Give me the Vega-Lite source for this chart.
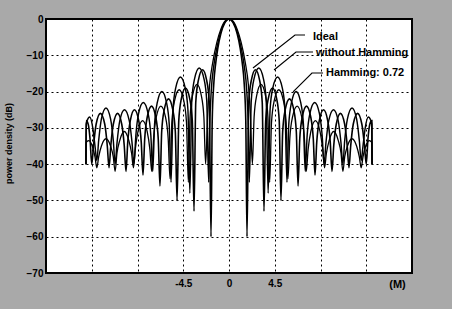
{
"$schema":"https://vega.github.io/schema/vega-lite/v6.json",
"width":366,"height":254,
"autosize":{"type":"none"},
"padding":{"left":46,"top":19,"right":40,"bottom":36},
"background":"#a9a9a9",
"config":{"view":{"stroke":"black","strokeWidth":2,"fill":"white"},"font":"Liberation Sans","axis":{"labelOverlap":false}},
"datasets":{
"curves":[
{"c":"I","x":-14.07,"y":-40},{"c":"I","x":-14.05,"y":-28},{"c":"I","x":-13.85,"y":-29},{"c":"I","x":-13.67,"y":-33},{"c":"I","x":-13.5,"y":-40},
{"c":"I","x":-13.33,"y":-35},{"c":"I","x":-13.07,"y":-29},{"c":"I","x":-12.65,"y":-26},{"c":"I","x":-12.22,"y":-29},{"c":"I","x":-11.97,"y":-35},{"c":"I","x":-11.8,"y":-41},
{"c":"I","x":-11.63,"y":-35},{"c":"I","x":-11.38,"y":-29},{"c":"I","x":-10.96,"y":-26},{"c":"I","x":-10.55,"y":-29},{"c":"I","x":-10.3,"y":-35},{"c":"I","x":-10.13,"y":-42},
{"c":"I","x":-9.96,"y":-34},{"c":"I","x":-9.71,"y":-28},{"c":"I","x":-9.3,"y":-25},{"c":"I","x":-8.88,"y":-28},{"c":"I","x":-8.63,"y":-34},{"c":"I","x":-8.46,"y":-43},
{"c":"I","x":-8.29,"y":-33},{"c":"I","x":-8.04,"y":-27},{"c":"I","x":-7.62,"y":-24},{"c":"I","x":-7.21,"y":-27},{"c":"I","x":-6.96,"y":-33},{"c":"I","x":-6.79,"y":-46},
{"c":"I","x":-6.62,"y":-31},{"c":"I","x":-6.37,"y":-25},{"c":"I","x":-5.95,"y":-22},{"c":"I","x":-5.53,"y":-25},{"c":"I","x":-5.28,"y":-31},{"c":"I","x":-5.11,"y":-50},
{"c":"I","x":-4.94,"y":-28},{"c":"I","x":-4.69,"y":-22},{"c":"I","x":-4.28,"y":-19},{"c":"I","x":-3.86,"y":-22},{"c":"I","x":-3.61,"y":-28},{"c":"I","x":-3.44,"y":-53},
{"c":"I","x":-3.27,"y":-23},{"c":"I","x":-3.02,"y":-17},{"c":"I","x":-2.6,"y":-14},{"c":"I","x":-2.19,"y":-17},{"c":"I","x":-1.94,"y":-23},{"c":"I","x":-1.77,"y":-60},
{"c":"I","x":-1.65,"y":-28},{"c":"I","x":-1.5,"y":-18},{"c":"I","x":-1.3,"y":-12},{"c":"I","x":-1.1,"y":-8},{"c":"I","x":-0.8,"y":-4},{"c":"I","x":-0.4,"y":-1},
{"c":"I","x":0,"y":0},
{"c":"I","x":0.4,"y":-1},{"c":"I","x":0.8,"y":-4},{"c":"I","x":1.1,"y":-8},{"c":"I","x":1.3,"y":-12},{"c":"I","x":1.5,"y":-18},{"c":"I","x":1.65,"y":-28},{"c":"I","x":1.77,"y":-60},
{"c":"I","x":1.94,"y":-23},{"c":"I","x":2.19,"y":-17},{"c":"I","x":2.6,"y":-14},{"c":"I","x":3.02,"y":-17},{"c":"I","x":3.27,"y":-23},{"c":"I","x":3.44,"y":-53},
{"c":"I","x":3.61,"y":-28},{"c":"I","x":3.86,"y":-22},{"c":"I","x":4.28,"y":-19},{"c":"I","x":4.69,"y":-22},{"c":"I","x":4.94,"y":-28},{"c":"I","x":5.11,"y":-50},
{"c":"I","x":5.28,"y":-31},{"c":"I","x":5.53,"y":-25},{"c":"I","x":5.95,"y":-22},{"c":"I","x":6.37,"y":-25},{"c":"I","x":6.62,"y":-31},{"c":"I","x":6.79,"y":-46},
{"c":"I","x":6.96,"y":-33},{"c":"I","x":7.21,"y":-27},{"c":"I","x":7.62,"y":-24},{"c":"I","x":8.04,"y":-27},{"c":"I","x":8.29,"y":-33},{"c":"I","x":8.46,"y":-43},
{"c":"I","x":8.63,"y":-34},{"c":"I","x":8.88,"y":-28},{"c":"I","x":9.3,"y":-25},{"c":"I","x":9.71,"y":-28},{"c":"I","x":9.96,"y":-34},{"c":"I","x":10.13,"y":-42},
{"c":"I","x":10.3,"y":-35},{"c":"I","x":10.55,"y":-29},{"c":"I","x":10.96,"y":-26},{"c":"I","x":11.38,"y":-29},{"c":"I","x":11.63,"y":-35},{"c":"I","x":11.8,"y":-41},
{"c":"I","x":11.97,"y":-35},{"c":"I","x":12.22,"y":-29},{"c":"I","x":12.65,"y":-26},{"c":"I","x":13.07,"y":-29},{"c":"I","x":13.33,"y":-35},{"c":"I","x":13.5,"y":-40},
{"c":"I","x":13.67,"y":-33},{"c":"I","x":13.85,"y":-29},{"c":"I","x":14.05,"y":-28},{"c":"I","x":14.07,"y":-40},

{"c":"W","x":-14.07,"y":-40},{"c":"W","x":-14.05,"y":-29},{"c":"W","x":-13.95,"y":-28},{"c":"W","x":-13.7,"y":-27},{"c":"W","x":-13.4,"y":-30},{"c":"W","x":-13.18,"y":-35},{"c":"W","x":-13.0,"y":-39},
{"c":"W","x":-12.82,"y":-33.5},{"c":"W","x":-12.55,"y":-27.5},{"c":"W","x":-12.1,"y":-24.5},{"c":"W","x":-11.65,"y":-27.5},{"c":"W","x":-11.38,"y":-33.5},{"c":"W","x":-11.2,"y":-40},
{"c":"W","x":-11.01,"y":-34},{"c":"W","x":-10.74,"y":-28},{"c":"W","x":-10.28,"y":-25},{"c":"W","x":-9.81,"y":-28},{"c":"W","x":-9.54,"y":-34},{"c":"W","x":-9.35,"y":-40},
{"c":"W","x":-9.16,"y":-32},{"c":"W","x":-8.89,"y":-26},{"c":"W","x":-8.43,"y":-23},{"c":"W","x":-7.96,"y":-26},{"c":"W","x":-7.69,"y":-32},{"c":"W","x":-7.5,"y":-42},
{"c":"W","x":-7.32,"y":-29},{"c":"W","x":-7.05,"y":-23},{"c":"W","x":-6.6,"y":-20},{"c":"W","x":-6.15,"y":-23},{"c":"W","x":-5.88,"y":-29},{"c":"W","x":-5.7,"y":-45},
{"c":"W","x":-5.51,"y":-25},{"c":"W","x":-5.24,"y":-19},{"c":"W","x":-4.78,"y":-16},{"c":"W","x":-4.31,"y":-19},{"c":"W","x":-4.04,"y":-25},{"c":"W","x":-3.85,"y":-48},
{"c":"W","x":-3.66,"y":-22.5},{"c":"W","x":-3.39,"y":-16.5},{"c":"W","x":-2.93,"y":-13.5},{"c":"W","x":-2.46,"y":-16.5},{"c":"W","x":-2.19,"y":-22.5},{"c":"W","x":-2.0,"y":-45},
{"c":"W","x":-1.9,"y":-30},{"c":"W","x":-1.75,"y":-20},{"c":"W","x":-1.5,"y":-13},{"c":"W","x":-1.2,"y":-8},{"c":"W","x":-0.8,"y":-3.5},{"c":"W","x":-0.4,"y":-0.8},
{"c":"W","x":0,"y":0},
{"c":"W","x":0.4,"y":-0.8},{"c":"W","x":0.8,"y":-3.5},{"c":"W","x":1.2,"y":-8},{"c":"W","x":1.5,"y":-13},{"c":"W","x":1.75,"y":-20},{"c":"W","x":1.9,"y":-30},{"c":"W","x":2.0,"y":-45},
{"c":"W","x":2.19,"y":-22.5},{"c":"W","x":2.46,"y":-16.5},{"c":"W","x":2.93,"y":-13.5},{"c":"W","x":3.39,"y":-16.5},{"c":"W","x":3.66,"y":-22.5},{"c":"W","x":3.85,"y":-48},
{"c":"W","x":4.04,"y":-25},{"c":"W","x":4.31,"y":-19},{"c":"W","x":4.78,"y":-16},{"c":"W","x":5.24,"y":-19},{"c":"W","x":5.51,"y":-25},{"c":"W","x":5.7,"y":-45},
{"c":"W","x":5.88,"y":-29},{"c":"W","x":6.15,"y":-23},{"c":"W","x":6.6,"y":-20},{"c":"W","x":7.05,"y":-23},{"c":"W","x":7.32,"y":-29},{"c":"W","x":7.5,"y":-42},
{"c":"W","x":7.69,"y":-32},{"c":"W","x":7.96,"y":-26},{"c":"W","x":8.43,"y":-23},{"c":"W","x":8.89,"y":-26},{"c":"W","x":9.16,"y":-32},{"c":"W","x":9.35,"y":-40},
{"c":"W","x":9.54,"y":-34},{"c":"W","x":9.81,"y":-28},{"c":"W","x":10.28,"y":-25},{"c":"W","x":10.74,"y":-28},{"c":"W","x":11.01,"y":-34},{"c":"W","x":11.2,"y":-40},
{"c":"W","x":11.38,"y":-33.5},{"c":"W","x":11.65,"y":-27.5},{"c":"W","x":12.1,"y":-24.5},{"c":"W","x":12.55,"y":-27.5},{"c":"W","x":12.82,"y":-33.5},{"c":"W","x":13.0,"y":-39},
{"c":"W","x":13.18,"y":-35},{"c":"W","x":13.4,"y":-30},{"c":"W","x":13.7,"y":-27},{"c":"W","x":13.95,"y":-28},{"c":"W","x":14.05,"y":-29},{"c":"W","x":14.07,"y":-40},

{"c":"H","x":-14.07,"y":-40},{"c":"H","x":-14.05,"y":-34},{"c":"H","x":-13.8,"y":-33.5},{"c":"H","x":-13.45,"y":-35},{"c":"H","x":-13.18,"y":-38},{"c":"H","x":-13.0,"y":-41},
{"c":"H","x":-12.82,"y":-38},{"c":"H","x":-12.55,"y":-35},{"c":"H","x":-12.1,"y":-33},{"c":"H","x":-11.65,"y":-35},{"c":"H","x":-11.38,"y":-38},{"c":"H","x":-11.2,"y":-42},
{"c":"H","x":-11.02,"y":-37},{"c":"H","x":-10.75,"y":-33.5},{"c":"H","x":-10.3,"y":-31},{"c":"H","x":-9.85,"y":-33.5},{"c":"H","x":-9.58,"y":-37},{"c":"H","x":-9.4,"y":-41},
{"c":"H","x":-9.22,"y":-36},{"c":"H","x":-8.95,"y":-31},{"c":"H","x":-8.5,"y":-28},{"c":"H","x":-8.05,"y":-31},{"c":"H","x":-7.78,"y":-36},{"c":"H","x":-7.6,"y":-42},
{"c":"H","x":-7.42,"y":-33},{"c":"H","x":-7.15,"y":-27},{"c":"H","x":-6.7,"y":-24},{"c":"H","x":-6.25,"y":-27},{"c":"H","x":-5.98,"y":-33},{"c":"H","x":-5.8,"y":-44},
{"c":"H","x":-5.62,"y":-28.5},{"c":"H","x":-5.35,"y":-22.5},{"c":"H","x":-4.9,"y":-19.5},{"c":"H","x":-4.45,"y":-22.5},{"c":"H","x":-4.18,"y":-28.5},{"c":"H","x":-4.0,"y":-45},
{"c":"H","x":-3.83,"y":-27},{"c":"H","x":-3.58,"y":-21},{"c":"H","x":-3.15,"y":-18},{"c":"H","x":-2.73,"y":-21},{"c":"H","x":-2.47,"y":-27},{"c":"H","x":-2.3,"y":-40},
{"c":"H","x":-2.1,"y":-26},{"c":"H","x":-1.9,"y":-18},{"c":"H","x":-1.6,"y":-12},{"c":"H","x":-1.2,"y":-6.5},{"c":"H","x":-0.8,"y":-2.8},{"c":"H","x":-0.4,"y":-0.6},
{"c":"H","x":0,"y":0},
{"c":"H","x":0.4,"y":-0.6},{"c":"H","x":0.8,"y":-2.8},{"c":"H","x":1.2,"y":-6.5},{"c":"H","x":1.6,"y":-12},{"c":"H","x":1.9,"y":-18},{"c":"H","x":2.1,"y":-26},{"c":"H","x":2.3,"y":-40},
{"c":"H","x":2.47,"y":-27},{"c":"H","x":2.73,"y":-21},{"c":"H","x":3.15,"y":-18},{"c":"H","x":3.58,"y":-21},{"c":"H","x":3.83,"y":-27},{"c":"H","x":4.0,"y":-45},
{"c":"H","x":4.18,"y":-28.5},{"c":"H","x":4.45,"y":-22.5},{"c":"H","x":4.9,"y":-19.5},{"c":"H","x":5.35,"y":-22.5},{"c":"H","x":5.62,"y":-28.5},{"c":"H","x":5.8,"y":-44},
{"c":"H","x":5.98,"y":-33},{"c":"H","x":6.25,"y":-27},{"c":"H","x":6.7,"y":-24},{"c":"H","x":7.15,"y":-27},{"c":"H","x":7.42,"y":-33},{"c":"H","x":7.6,"y":-42},
{"c":"H","x":7.78,"y":-36},{"c":"H","x":8.05,"y":-31},{"c":"H","x":8.5,"y":-28},{"c":"H","x":8.95,"y":-31},{"c":"H","x":9.22,"y":-36},{"c":"H","x":9.4,"y":-41},
{"c":"H","x":9.58,"y":-37},{"c":"H","x":9.85,"y":-33.5},{"c":"H","x":10.3,"y":-31},{"c":"H","x":10.75,"y":-33.5},{"c":"H","x":11.02,"y":-37},{"c":"H","x":11.2,"y":-42},
{"c":"H","x":11.38,"y":-38},{"c":"H","x":11.65,"y":-35},{"c":"H","x":12.1,"y":-33},{"c":"H","x":12.55,"y":-35},{"c":"H","x":12.82,"y":-38},{"c":"H","x":13.0,"y":-41},
{"c":"H","x":13.18,"y":-38},{"c":"H","x":13.45,"y":-35},{"c":"H","x":13.8,"y":-33.5},{"c":"H","x":14.05,"y":-34},{"c":"H","x":14.07,"y":-40}
],
"leaders":[
{"g":"a","x":2.36,"y":-13.5},{"g":"a","x":6.49,"y":-4.41},{"g":"a","x":7.48,"y":-4.41},
{"g":"b","x":4.43,"y":-14.05},{"g":"b","x":6.59,"y":-9.09},{"g":"b","x":8.26,"y":-9.09},
{"g":"c","x":6.3,"y":-20.1},{"g":"c","x":8.16,"y":-14.88},{"g":"c","x":9.25,"y":-14.88}
],
"labels":[
{"t":"Ideal","x":8.26,"y":-4.96},
{"t":"without Hamming","x":8.56,"y":-9.37},
{"t":"Hamming: 0.72","x":9.54,"y":-14.88}
]
},
"encoding":{
  "x":{"field":"x","type":"quantitative","scale":{"domain":[-18,18],"nice":false,"zero":false},
   "axis":{"values":[-18,-13.5,-9,-4.5,0,4.5,9,13.5,18],"grid":true,"gridColor":"black","gridDash":[2,3],"gridWidth":1,"gridOpacity":1,"ticks":false,"domain":false,
    "labelExpr":"datum.value == 0 ? '0' : datum.value == 4.5 ? '4.5' : datum.value == -4.5 ? '-4.5' : ''",
    "labelOverlap":false,"labelFlush":false,
    "labelFont":"Liberation Sans","labelFontWeight":"bold","labelFontSize":10,"labelColor":"black","labelPadding":5,
    "title":"(M)","titleFont":"Liberation Sans","titleFontWeight":"bold","titleFontSize":11,"titleColor":"black","titleX":351,"titleY":11,"titleBaseline":"middle","titleAlign":"center"}},
  "y":{"field":"y","type":"quantitative","scale":{"domain":[-70,0],"nice":false,"zero":false},
   "axis":{"values":[-70,-60,-50,-40,-30,-20,-10,0],"grid":true,"gridColor":"black","gridDash":[2,3],"gridWidth":1,"gridOpacity":1,"ticks":false,"domain":false,
    "format":"d","labelOverlap":false,"labelFlush":false,"labelBound":false,
    "labelFont":"Liberation Sans","labelFontWeight":"bold","labelFontSize":10,"labelColor":"black","labelPadding":3,
    "title":"power density (dB)","titleFont":"Liberation Sans","titleFontWeight":"bold","titleFontSize":9,"titleColor":"black","titleX":-38,"titleY":124,"titleBaseline":"middle","titleAlign":"center"}}
},
"layer":[
{"data":{"name":"curves"},
 "mark":{"type":"line","interpolate":"monotone","color":"black","clip":true},
 "encoding":{
  "detail":{"field":"c"},
  "strokeWidth":{"field":"c","type":"nominal","scale":{"domain":["I","W","H"],"range":[1.6,1.3,1.3]},"legend":null}
 }},
{"data":{"name":"leaders"},
 "mark":{"type":"line","color":"black","strokeWidth":1.2},
 "encoding":{"detail":{"field":"g"}}},
{"data":{"name":"labels"},
 "mark":{"type":"text","align":"left","baseline":"middle","font":"Liberation Sans","fontWeight":"bold","fontSize":11,"color":"black"},
 "encoding":{"text":{"field":"t"}}}
]
}
